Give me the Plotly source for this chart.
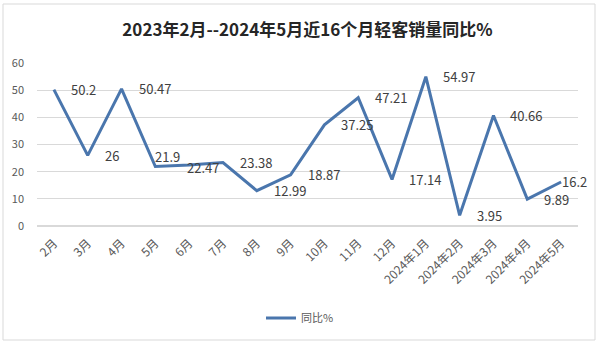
import plotly.graph_objects as go

categories = ["2月", "3月", "4月", "5月", "6月", "7月", "8月", "9月", "10月", "11月", "12月",
              "2024年1月", "2024年2月", "2024年3月", "2024年4月", "2024年5月"]
values = [50.2, 26, 50.47, 21.9, 22.47, 23.38, 12.99, 18.87, 37.25, 47.21, 17.14,
          54.97, 3.95, 40.66, 9.89, 16.2]
labels = ["50.2", "26", "50.47", "21.9", "22.47", "23.38", "12.99", "18.87", "37.25", "47.21",
          "17.14", "54.97", "3.95", "40.66", "9.89", "16.2"]
y_ticks = [0, 10, 20, 30, 40, 50, 60]

color = "#4a76ad"
font = "Noto Sans CJK SC, Noto Sans, sans-serif"

fig = go.Figure()
fig.add_trace(go.Scatter(
    x=categories, y=values, mode="lines", name="同比%",
    line=dict(color=color, width=3),
    cliponaxis=False,
))

# data label offsets (pixels) for labels that were moved in the original
label_shift = {"5月": (-2, 10), "6月": (-4, -3), "2024年5月": (-1, 0)}
for cat, val, lab in zip(categories, values, labels):
    dx, dy = label_shift.get(cat, (15, 0))
    fig.add_annotation(x=cat, y=val, text=lab, showarrow=False,
                       xanchor="left", yanchor="middle", xshift=dx, yshift=dy,
                       font=dict(size=13, color="#404040", family=font))

L, R, T, B = 37, 22, 63, 119
pw = 600 - L - R
ph = 345 - T - B

def px(x):
    return (x - L) / pw

def py(y):
    return (345 - B - y) / ph

fig.add_shape(type="rect", xref="paper", yref="paper",
              x0=px(3), x1=px(595), y0=py(340), y1=py(4),
              line=dict(color="#d9d9d9", width=1), layer="below")

fig.update_layout(
    width=600, height=345,
    margin=dict(l=L, r=R, t=T, b=B),
    paper_bgcolor="white", plot_bgcolor="white",
    title=dict(text="<b>2023年2月--2024年5月近16个月轻客销量同比%</b>",
               x=0.5, xref="paper", xanchor="center",
               y=1 - 30 / 345, yanchor="middle",
               font=dict(size=17, color="#262626", family=font)),
    showlegend=True,
    legend=dict(orientation="h", x=0.5, xanchor="center", xref="container",
                y=(345 - 318) / 345, yref="container", yanchor="middle",
                font=dict(size=11, color="#595959", family=font),
                itemwidth=30),
    font=dict(family=font),
)
fig.update_xaxes(
    type="category", range=[-0.5, len(categories) - 0.5],
    tickangle=-45, showgrid=False, showline=False, zeroline=False,
    tickfont=dict(size=12, color="#595959", family=font), ticks="",
    ticklabelstandoff=7,
)
fig.update_yaxes(
    range=[0, 60], tickvals=y_ticks, showgrid=True, gridcolor="#d9d9d9", gridwidth=1,
    zeroline=True, zerolinecolor="#d9d9d9", showline=False,
    tickfont=dict(size=11, color="#595959", family=font), ticks="",
    ticklabelstandoff=12,
)

fig.write_html("out.html")
